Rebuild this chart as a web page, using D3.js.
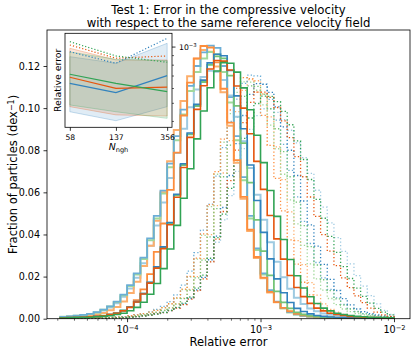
<!DOCTYPE html>
<html>
<head>
<meta charset="utf-8">
<script src="https://cdn.jsdelivr.net/npm/d3@7"></script>
<style>
  body { margin: 0; background: #fff; }
  svg { font-family: "DejaVu Sans", sans-serif; }
</style>
</head>
<body>
<div id="chart"></div>
<script>
// histogram bins: 50 bins of 0.05 dex, starting at 10^-4.5
const binStart = -4.5;
const binWidth = 0.05;

// fraction of particles per dex, in units of 1e-3 (solid = compressive velocity)
const solidB1 = [0.4,0.5,0.6,0.7,0.9,1.1,1.4,2.0,2.6,3.9,5.5,8.1,12.0,17.3,24.6,34.1,45.7,59.1,73.6,88.2,101.8,113.3,121.5,125.6,124.9,117.9,105.8,90.2,73.0,56.1,41.0,28.4,18.9,12.3,7.7,4.9,3.4,2.3,1.5,1.1,0.8,0.6,0.5,0.4,0.3,0.2,0.2,0.1,0.1,0];
const solidB2 = [0.9,1.1,1.4,1.8,2.3,3.1,4.3,5.9,8.1,11.4,15.9,21.5,29.0,38.1,48.8,60.8,73.6,86.7,99.3,110.6,120.0,126.5,129.7,128.6,120.0,105.2,86.7,67.2,48.8,33.4,21.5,13.5,8.1,5.1,3.1,2.1,1.4,1.0,0.7,0.6,0.5,0.3,0.2,0.2,0.1,0,0,0,0,0];
const solidB3 = [0.8,1.0,1.3,1.7,2.1,2.8,3.9,5.3,7.3,10.4,14.4,19.5,26.3,34.6,44.3,55.2,66.8,78.7,90.2,100.4,108.9,114.8,117.8,117.3,113.3,106.0,95.9,84.3,71.6,58.9,47.0,36.3,27.1,19.7,14.2,10.0,7.0,4.8,3.5,2.5,1.9,1.4,1.1,0.9,0.7,0.6,0.5,0.4,0.3,0.3];
const solidO1 = [0.4,0.5,0.6,0.7,0.9,1.1,1.4,2.0,2.6,3.8,5.4,7.9,11.7,16.9,24.0,33.3,44.6,57.7,71.8,86.1,99.4,110.6,118.6,122.6,122.3,118.1,110.5,100.0,87.8,74.7,61.4,49.0,37.9,28.3,20.5,14.8,10.5,7.3,5.0,3.7,2.6,2.0,1.5,1.1,0.9,0.7,0.6,0.5,0.4,0.3];
const solidO2 = [0.3,0.3,0.5,0.6,0.7,0.9,1.2,1.7,2.5,3.6,5.6,8.8,13.9,21.2,31.7,45.2,61.2,78.9,96.5,112.1,123.6,129.5,128.8,121.7,109.2,93.1,75.3,57.9,42.3,29.3,19.5,12.7,7.9,5.1,3.5,2.3,1.6,1.1,0.9,0.7,0.5,0.4,0.3,0.2,0.2,0.1,0.1,0,0,0];
const solidO3 = [0.6,0.7,0.9,1.1,1.5,2.0,2.7,4.0,5.6,8.2,12.2,17.5,25.0,34.7,46.5,60.0,74.8,89.6,103.4,115.1,123.4,127.6,126.8,119.8,107.5,91.6,74.1,57.0,41.6,28.8,19.2,12.5,7.8,5.0,3.5,2.3,1.5,1.1,0.9,0.6,0.5,0.4,0.3,0.2,0.2,0.1,0.1,0,0,0];
const solidG1 = [0.3,0.4,0.5,0.5,0.7,0.9,1.1,1.4,2.0,2.6,3.8,5.4,7.8,11.6,16.7,23.8,33.1,44.3,57.2,71.2,85.4,98.6,109.7,117.6,121.6,121.3,117.1,109.6,99.2,87.1,74.1,60.9,48.6,37.6,28.1,20.4,14.6,10.4,7.2,5.0,3.7,2.6,2.0,1.5,1.1,0.9,0.7,0.6,0.5,0.4];
const solidG2 = [0.4,0.5,0.6,0.7,0.9,1.1,1.4,2.0,2.6,3.9,5.5,8.0,11.9,17.1,24.4,33.9,45.4,58.6,73.0,87.5,101.0,112.4,120.5,124.6,123.6,115.4,101.1,83.4,64.6,46.9,32.1,20.6,13.0,7.8,4.9,3.0,2.0,1.4,1.0,0.7,0.6,0.4,0.3,0.2,0.2,0.1,0,0,0,0];
const solidG3 = [0.9,1.1,1.4,1.8,2.2,3.0,4.2,5.8,7.9,11.1,15.5,21.0,28.3,37.2,47.6,59.4,71.9,84.7,97.0,108.1,117.2,123.6,126.7,125.6,117.2,102.7,84.7,65.7,47.6,32.6,21.0,13.2,7.9,5.0,3.0,2.0,1.4,1.0,0.7,0.6,0.4,0.3,0.2,0.2,0.1,0,0,0,0,0];

// dotted = same quantity for the second estimate
const dottedB1 = [0.0,0.1,0.1,0.1,0.1,0.2,0.2,0.3,0.4,0.6,0.8,1.0,1.3,1.8,2.4,3.0,3.9,5.2,6.9,9.6,13.7,19.6,28.0,39.2,52.8,68.0,83.1,96.5,106.5,111.6,111.3,107.5,100.6,91.1,80.0,68.0,55.9,44.6,34.5,25.8,18.7,13.4,9.5,6.6,4.6,3.4,2.4,1.8,1.3,1.0];
const dottedB2 = [0.1,0.1,0.1,0.2,0.2,0.3,0.5,0.6,0.8,1.0,1.4,1.9,2.4,3.2,4.4,5.9,8.1,11.3,15.9,22.6,31.4,42.1,54.4,67.7,81.2,93.7,104.3,111.8,115.7,115.3,111.4,104.2,94.3,82.8,70.4,57.9,46.2,35.7,26.7,19.4,13.9,9.9,6.8,4.8,3.5,2.4,1.9,1.4,1.0,0.9];
const dottedB3 = [0.0,0.1,0.1,0.1,0.1,0.2,0.2,0.3,0.4,0.5,0.7,0.9,1.2,1.6,2.1,2.8,3.8,5.1,7.0,9.7,13.7,19.5,27.1,36.3,46.9,58.4,70.0,80.8,89.9,96.4,99.7,99.7,98.0,94.5,89.5,83.5,76.5,69.0,61.0,53.0,45.5,38.5,32.0,26.0,20.5,15.5,11.0,7.0,4.0,2.0];
const dottedO1 = [0.0,0.1,0.1,0.1,0.1,0.2,0.2,0.3,0.4,0.5,0.8,1.0,1.3,1.7,2.3,2.9,3.8,5.0,6.7,9.3,13.2,18.9,27.0,37.8,50.9,65.6,80.1,93.1,102.7,107.6,107.6,105.1,100.3,93.9,86.0,77.0,67.4,57.8,48.6,39.9,32.1,25.2,19.4,14.8,10.8,7.6,5.0,3.1,1.8,1.1];
const dottedO2 = [0.1,0.1,0.1,0.2,0.2,0.3,0.5,0.6,0.8,1.0,1.4,1.8,2.4,3.1,4.0,5.3,7.1,9.9,14.0,20.1,28.8,40.3,54.2,69.8,85.3,99.1,109.4,114.5,114.0,107.6,96.6,82.3,66.6,51.2,37.4,25.9,17.3,11.3,7.0,4.5,3.1,2.1,1.4,1.0,0.8,0.6,0.5,0.4,0.3,0.2];
const dottedO3 = [0.1,0.1,0.1,0.1,0.2,0.2,0.3,0.5,0.6,0.8,1.0,1.4,1.8,2.4,3.1,4.0,5.2,7.1,9.8,13.9,20.0,28.5,39.9,53.7,69.2,84.6,98.3,108.4,113.5,113.0,106.7,95.8,81.6,66.0,50.7,37.1,25.7,17.1,11.2,7.0,4.4,3.1,2.1,1.4,1.0,0.8,0.6,0.5,0.4,0.3];
const dottedG1 = [0.0,0.1,0.1,0.1,0.1,0.2,0.2,0.3,0.4,0.5,0.7,1.0,1.3,1.7,2.2,3.0,4.0,5.4,7.4,10.3,14.5,20.7,28.7,38.5,49.7,61.9,74.2,85.6,95.3,102.2,105.7,105.6,103.1,98.5,92.1,84.4,75.6,66.1,56.7,47.7,39.1,31.5,24.7,19.1,14.5,10.6,7.4,4.9,3.1,1.8];
const dottedG2 = [0.1,0.1,0.1,0.1,0.2,0.2,0.3,0.4,0.6,0.8,1.0,1.3,1.8,2.3,3.0,3.9,5.1,6.9,9.5,13.5,19.4,27.8,38.9,52.3,67.4,82.4,95.7,105.6,110.6,110.3,106.6,99.7,90.2,79.3,67.4,55.4,44.2,34.2,25.5,18.5,13.3,9.4,6.5,4.6,3.3,2.3,1.8,1.3,1.0,0.8];
const dottedG3 = [0.1,0.1,0.1,0.2,0.2,0.3,0.5,0.6,0.8,1.0,1.4,1.8,2.4,3.1,4.0,5.2,7.0,9.7,13.8,19.8,28.3,39.6,53.2,68.6,83.8,97.4,107.5,112.5,112.3,108.5,101.5,91.9,80.7,68.6,56.4,45.0,34.8,26.0,18.9,13.6,9.6,6.7,4.6,3.4,2.4,1.8,1.4,1.0,0.8,0.7];

// inset: relative error vs number of neighbours
const nngh = [58, 137, 356];
const medianBlue = [6.36e-4, 5.67e-4, 6.99e-4];
const medianOrange = [6.85e-4, 5.98e-4, 6.06e-4];
const medianGreen = [7.11e-4, 6.36e-4, 5.74e-4];
const dottedBlue = [9.39e-4, 8.14e-4, 1.107e-3];
const dottedOrange = [1.020e-3, 8.66e-4, 8.91e-4];
const dottedGreen = [1.062e-3, 8.91e-4, 8.24e-4];
const lowBlue = [4.48e-4, 4.01e-4, 4.77e-4];
const lowOrange = [4.77e-4, 4.31e-4, 4.25e-4];
const lowGreen = [4.87e-4, 4.48e-4, 4.13e-4];
const highBlue = [8.83e-4, 8.14e-4, 1.041e-3];
const highOrange = [9.79e-4, 8.48e-4, 8.48e-4];
const highGreen = [9.36e-4, 8.55e-4, 8.41e-4];

const width = 415, height = 352;
const plot = { left: 47, right: 410, top: 30, bottom: 318.7 };

const svg = d3.select('#chart')
    .append('svg')
    .attr('width', width)
    .attr('height', height);

const x = d3.scaleLog()
    .domain([Math.pow(10, -4.6), Math.pow(10, -1.88)])
    .range([plot.left, plot.right]);
const y = d3.scaleLinear()
    .domain([0, 0.1371])
    .range([plot.bottom, plot.top]);

const edges = d3.range(51).map(j => Math.pow(10, binStart + j * binWidth));
const line = d3.line().x(d => x(d[0])).y(d => y(d[1]));

function stepPoints(vals) {
    const pts = [[edges[0], 0]];
    vals.forEach((v, j) => {
        pts.push([edges[j], v / 1000]);
        pts.push([edges[j + 1], v / 1000]);
    });
    pts.push([edges[vals.length], 0]);
    return pts;
}

const blues = ['#3182bd', '#6baed6', '#9ecae1'];
const oranges = ['#e6550d', '#fd8d3c', '#fdae6b'];
const greens = ['#31a354', '#74c476', '#a1d99b'];

const dottedSeries = [
    [dottedB3, blues[2]], [dottedO3, oranges[2]], [dottedG3, greens[2]],
    [dottedB2, blues[1]], [dottedO2, oranges[1]], [dottedG2, greens[1]],
    [dottedB1, blues[0]], [dottedO1, oranges[0]], [dottedG1, greens[0]],
];
const solidSeries = [
    [solidB3, blues[2], 2.0], [solidO3, oranges[2], 2.0], [solidG3, greens[2], 2.0],
    [solidB2, blues[1], 1.8], [solidO2, oranges[1], 1.8], [solidG2, greens[1], 1.8],
    [solidB1, blues[0], 1.6], [solidO1, oranges[0], 1.6], [solidG1, greens[0], 1.6],
];

svg.append('clipPath').attr('id', 'clip')
    .append('rect')
    .attr('x', plot.left).attr('y', plot.top)
    .attr('width', plot.right - plot.left).attr('height', plot.bottom - plot.top);

const curves = svg.append('g').attr('clip-path', 'url(#clip)');

curves.selectAll('path.dotted')
    .data(dottedSeries)
    .enter()
    .append('path')
    .attr('class', 'dotted')
    .attr('d', d => line(stepPoints(d[0])))
    .attr('fill', 'none')
    .attr('stroke', d => d[1])
    .attr('stroke-width', 1.3)
    .attr('stroke-dasharray', '1.3,2.2');

curves.selectAll('path.solid')
    .data(solidSeries)
    .enter()
    .append('path')
    .attr('class', 'solid')
    .attr('d', d => line(stepPoints(d[0])))
    .attr('fill', 'none')
    .attr('stroke', d => d[1])
    .attr('stroke-width', d => d[2]);

// axes
function styleAxis(g, fontSize) {
    g.select('.domain').remove();
    g.selectAll('line').attr('stroke', '#000').attr('stroke-width', 0.8);
    g.selectAll('text').attr('fill', '#000').attr('font-size', fontSize + 'px')
        .attr('font-family', '"DejaVu Sans", sans-serif');
}

function powerLabel(sel, baseSize) {
    sel.each(function (d) {
        const t = d3.select(this);
        const e = Math.round(Math.log10(d));
        t.text(null);
        t.append('tspan').text('10');
        t.append('tspan').attr('dy', '-0.42em').attr('font-size', (baseSize * 0.7) + 'px')
            .text('\u2212' + Math.abs(e));
    });
}

const xMajor = [1e-4, 1e-3, 1e-2];
const xMinor = [];
[-5, -4, -3].forEach(e => d3.range(2, 10).forEach(m => {
    const v = m * Math.pow(10, e);
    if (v > x.domain()[0] && v < x.domain()[1]) xMinor.push(v);
}));

const gxMinor = svg.append('g')
    .attr('transform', `translate(0,${plot.bottom})`)
    .call(d3.axisBottom(x).tickValues(xMinor).tickSize(2).tickFormat(''));
styleAxis(gxMinor, 9.6);
gxMinor.selectAll('line').attr('stroke-width', 0.6);

const gx = svg.append('g')
    .attr('transform', `translate(0,${plot.bottom})`)
    .call(d3.axisBottom(x).tickValues(xMajor).tickSize(3.5).tickPadding(3.5));
styleAxis(gx, 9.6);
gx.selectAll('text').call(powerLabel, 9.6);

const gy = svg.append('g')
    .attr('transform', `translate(${plot.left},0)`)
    .call(d3.axisLeft(y).tickValues([0, 0.02, 0.04, 0.06, 0.08, 0.10, 0.12])
        .tickSize(3.5).tickPadding(3.5).tickFormat(d3.format('.2f')));
styleAxis(gy, 9.6);

svg.append('rect')
    .attr('x', plot.left).attr('y', plot.top)
    .attr('width', plot.right - plot.left).attr('height', plot.bottom - plot.top)
    .attr('fill', 'none').attr('stroke', '#000').attr('stroke-width', 0.8);

// labels
svg.append('text')
    .attr('x', (plot.left + plot.right) / 2).attr('y', 345.5)
    .attr('text-anchor', 'middle').attr('font-size', '11.5px')
    .text('Relative error');

const ylab = svg.append('text')
    .attr('transform', `translate(17,${(plot.top + plot.bottom) / 2}) rotate(-90)`)
    .attr('text-anchor', 'middle').attr('font-size', '11.5px');
ylab.append('tspan').text('Fraction of particles (dex');
ylab.append('tspan').attr('dy', '-0.42em').attr('font-size', '8px').text('\u22121');
ylab.append('tspan').attr('dy', '0.42em').text(')');

const title = svg.append('text')
    .attr('text-anchor', 'middle').attr('font-size', '11.7px');
title.append('tspan').attr('x', (plot.left + plot.right) / 2).attr('y', 13.8)
    .text('Test 1: Error in the compressive velocity');
title.append('tspan').attr('x', (plot.left + plot.right) / 2).attr('y', 27.2)
    .text('with respect to the same reference velocity field');

// inset
const inset = { left: 65, top: 33.3, width: 107, height: 94 };
const gi = svg.append('g').attr('transform', `translate(${inset.left},${inset.top})`);
gi.append('rect').attr('width', inset.width).attr('height', inset.height).attr('fill', '#fff');

const xi = d3.scaleLog().domain([53.0, 389.8]).range([0, inset.width]);
const yi = d3.scaleLog().domain([Math.pow(10, -3.432), Math.pow(10, -2.929)]).range([inset.height, 0]);

const bands = [
    [lowBlue, highBlue, blues[0]],
    [lowOrange, highOrange, oranges[0]],
    [lowGreen, highGreen, greens[0]],
];
const area = d3.area()
    .x((d, i) => xi(nngh[i]))
    .y0(d => yi(d[0]))
    .y1(d => yi(d[1]));
const iline = d3.line().x((d, i) => xi(nngh[i])).y(d => yi(d));

gi.selectAll('path.band')
    .data(bands)
    .enter()
    .append('path')
    .attr('class', 'band')
    .attr('d', d => area(d[0].map((v, i) => [v, d[1][i]])))
    .attr('fill', d => d[2])
    .attr('fill-opacity', 0.15)
    .attr('stroke', d => d[2])
    .attr('stroke-opacity', 0.3)
    .attr('stroke-width', 0.9);

const insetLines = [
    [dottedBlue, blues[0], true], [dottedOrange, oranges[0], true], [dottedGreen, greens[0], true],
    [medianBlue, blues[0], false], [medianOrange, oranges[0], false], [medianGreen, greens[0], false],
];
gi.selectAll('path.iline')
    .data(insetLines)
    .enter()
    .append('path')
    .attr('class', 'iline')
    .attr('d', d => iline(d[0]))
    .attr('fill', 'none')
    .attr('stroke', d => d[1])
    .attr('stroke-width', 1.2)
    .attr('stroke-dasharray', d => d[2] ? '1.2,2' : null);

const gix = gi.append('g')
    .attr('transform', `translate(0,${inset.height})`)
    .call(d3.axisBottom(xi).tickValues(nngh).tickSize(3.5).tickPadding(3.5).tickFormat(d3.format('d')));
styleAxis(gix, 7.7);

const giyMinor = gi.append('g')
    .attr('transform', `translate(${inset.width},0)`)
    .call(d3.axisRight(yi).tickValues([4e-4, 5e-4, 6e-4, 7e-4, 8e-4, 9e-4]).tickSize(2).tickFormat(''));
styleAxis(giyMinor, 7.7);
giyMinor.selectAll('line').attr('stroke-width', 0.6);

const giy = gi.append('g')
    .attr('transform', `translate(${inset.width},0)`)
    .call(d3.axisRight(yi).tickValues([1e-3]).tickSize(3.5).tickPadding(3.5));
styleAxis(giy, 7.7);
giy.selectAll('text').call(powerLabel, 7.7);

gi.append('rect')
    .attr('width', inset.width).attr('height', inset.height)
    .attr('fill', 'none').attr('stroke', '#000').attr('stroke-width', 0.8);

gi.append('text')
    .attr('transform', `translate(-4,${inset.height / 2}) rotate(-90)`)
    .attr('text-anchor', 'middle').attr('font-size', '9.4px')
    .text('Relative error');

const nlab = gi.append('text')
    .attr('x', inset.width / 2).attr('y', 117)
    .attr('text-anchor', 'middle').attr('font-size', '9.4px');
nlab.append('tspan').attr('font-style', 'italic').text('N');
nlab.append('tspan').attr('dy', '0.25em').attr('font-size', '6.6px').text('ngh');
</script>
</body>
</html>
